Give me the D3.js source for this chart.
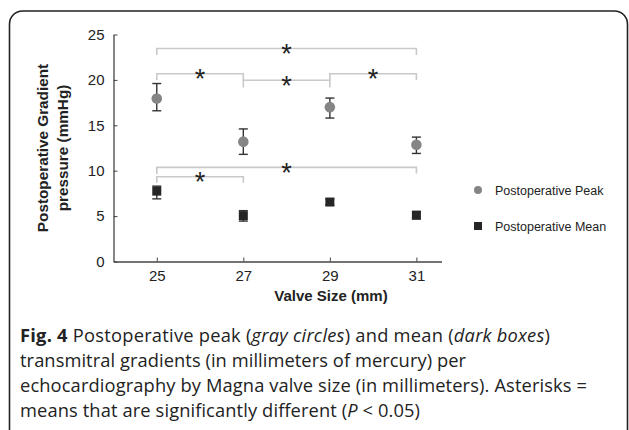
<!DOCTYPE html>
<html>
<head>
<meta charset="utf-8">
<script src="https://cdn.jsdelivr.net/npm/d3@7"></script>
<style>
  body { margin: 0; background: #fff; }
  svg { display: block; }
</style>
</head>
<body>
<svg id="chart" width="629" height="430"></svg>
<script>
// valve sizes and gradients
var sizes = [25, 27, 29, 31];
var peakMean = [17.95, 13.2, 17.0, 12.85];
var peakHigh = [19.6, 14.6, 18.0, 13.7];
var peakLow = [16.6, 11.8, 15.8, 11.9];
var meanMean = [7.75, 5.05, 6.55, 5.1];
var meanHigh = [8.3, 5.6, 6.9, 5.5];
var meanLow = [6.9, 4.45, 6.2, 4.7];
var yTicks = [0, 5, 10, 15, 20, 25];

// significance brackets: [from, to, line level, left leg end, right leg end]
var brackets = [
  [25, 31, 23.45, 22.75, 22.75],
  [25, 27, 20.68, 20.0, 19.96],
  [27, 29, 19.96, 19.15, 19.15],
  [29, 31, 20.68, 19.96, 20.0],
  [25, 31, 10.37, 9.65, 9.7],
  [25, 27, 9.34, 8.68, 8.68]
];

// caption lines, pieces are [text, style]
var caption = [
  [["Fig. 4", "b"], [" Postoperative peak (", ""], ["gray circles", "i"], [") and mean (", ""], ["dark boxes", "i"], [")", ""]],
  [["transmitral gradients (in millimeters of mercury) per", ""]],
  [["echocardiography by Magna valve size (in millimeters). Asterisks =", ""]],
  [["means that are significantly different (", ""], ["P", "i"], [" < 0.05)", ""]]
];
var captionWidths = [530, 446, 567, 400];

var svg = d3.select("#chart");

// frame round figure
svg.append("rect")
  .attr("x", 9.5).attr("y", 11)
  .attr("width", 618).attr("height", 440)
  .attr("rx", 13)
  .attr("fill", "none")
  .attr("stroke", "#222")
  .attr("stroke-width", 1.6);

var x = d3.scaleLinear().domain([24, 31.58]).range([113.5, 441.5]);
var y = d3.scaleLinear().domain([0, 25]).range([261.5, 34.5]);

svg.append("g")
  .attr("transform", "translate(0,261.5)")
  .call(d3.axisBottom(x).tickValues(sizes).tickSizeInner(-4).tickSizeOuter(0).tickPadding(9))
  .call(function(g){
    g.select(".domain").attr("stroke", "#444").attr("stroke-width", 1.3);
    g.selectAll(".tick line").attr("stroke", "#444");
    g.selectAll("text").attr("font-family", "Liberation Sans, Arial, sans-serif")
      .attr("font-size", 15).attr("fill", "#222");
  });

svg.append("g")
  .attr("transform", "translate(113.5,0)")
  .call(d3.axisLeft(y).tickValues(yTicks).tickSizeInner(-4).tickSizeOuter(0).tickPadding(9))
  .call(function(g){
    g.select(".domain").attr("stroke", "#444").attr("stroke-width", 1.3);
    g.selectAll(".tick line").attr("stroke", "#444");
    g.selectAll("text").attr("font-family", "Liberation Sans, Arial, sans-serif")
      .attr("font-size", 15).attr("fill", "#222");
  });

// axis titles
svg.append("text")
  .attr("x", 331).attr("y", 301)
  .attr("text-anchor", "middle")
  .attr("font-family", "Liberation Sans, Arial, sans-serif")
  .attr("font-weight", "bold").attr("font-size", 15)
  .attr("fill", "#222")
  .text("Valve Size (mm)");

var ytitle = svg.append("text")
  .attr("transform", "translate(43,148) rotate(-90)")
  .attr("text-anchor", "middle")
  .attr("font-family", "Liberation Sans, Arial, sans-serif")
  .attr("font-weight", "bold").attr("font-size", 15.3)
  .attr("fill", "#222");
ytitle.append("tspan").attr("x", 0).attr("dy", "0.35em").text("Postoperative Gradient");
ytitle.append("tspan").attr("x", 0).attr("dy", 20).text("pressure (mmHg)");

// brackets
var br = svg.append("g");
brackets.forEach(function(b){
  var p = d3.path();
  p.moveTo(x(b[0]), y(b[3]));
  p.lineTo(x(b[0]), y(b[2]));
  p.lineTo(x(b[1]), y(b[2]));
  p.lineTo(x(b[1]), y(b[4]));
  br.append("path")
    .attr("d", p.toString())
    .attr("fill", "none")
    .attr("stroke", "#c9c9c9")
    .attr("stroke-width", 1.6);
  br.append("text")
    .attr("x", x((b[0] + b[1]) / 2))
    .attr("y", y(b[2]) + 14.5)
    .attr("text-anchor", "middle")
    .attr("font-family", "Liberation Sans, Arial, sans-serif")
    .attr("font-size", 27)
    .attr("fill", "#222")
    .text("*");
});

// error bars
function errorBars(high, low){
  var g = svg.append("g").attr("stroke", "#333").attr("stroke-width", 1.4);
  sizes.forEach(function(s, i){
    g.append("line").attr("x1", x(s)).attr("x2", x(s)).attr("y1", y(high[i])).attr("y2", y(low[i]));
    g.append("line").attr("x1", x(s) - 4.5).attr("x2", x(s) + 4.5).attr("y1", y(high[i])).attr("y2", y(high[i]));
    g.append("line").attr("x1", x(s) - 4.5).attr("x2", x(s) + 4.5).attr("y1", y(low[i])).attr("y2", y(low[i]));
  });
}
errorBars(peakHigh, peakLow);
errorBars(meanHigh, meanLow);

svg.selectAll(".peak")
  .data(peakMean)
  .enter()
  .append("circle")
  .attr("class", "peak")
  .attr("cx", function(d, i){ return x(sizes[i]); })
  .attr("cy", function(d){ return y(d); })
  .attr("r", 5.3)
  .attr("fill", "#858585");

svg.selectAll(".mean")
  .data(meanMean)
  .enter()
  .append("rect")
  .attr("class", "mean")
  .attr("x", function(d, i){ return x(sizes[i]) - 4.5; })
  .attr("y", function(d){ return y(d) - 4.5; })
  .attr("width", 9).attr("height", 9)
  .attr("fill", "#262626");

// legend
var legend = svg.append("g")
  .attr("font-family", "Liberation Sans, Arial, sans-serif")
  .attr("font-size", 12.5)
  .attr("fill", "#222");
legend.append("circle").attr("cx", 478).attr("cy", 190).attr("r", 4).attr("fill", "#858585");
legend.append("text").attr("x", 495).attr("y", 194.5).text("Postoperative Peak");
legend.append("rect").attr("x", 474).attr("y", 222).attr("width", 8).attr("height", 8).attr("fill", "#262626");
legend.append("text").attr("x", 495).attr("y", 230.5).text("Postoperative Mean");

// caption
var cap = svg.append("g")
  .attr("font-family", "Open Sans, sans-serif")
  .attr("font-size", 18.3)
  .attr("fill", "#222");
caption.forEach(function(line, i){
  var t = cap.append("text")
    .attr("x", 20)
    .attr("y", 341.5 + i * 25.3)
    .attr("textLength", captionWidths[i])
    .attr("lengthAdjust", "spacing");
  line.forEach(function(piece){
    t.append("tspan")
      .attr("font-weight", piece[1] == "b" ? "bold" : null)
      .attr("font-style", piece[1] == "i" ? "italic" : null)
      .text(piece[0]);
  });
});
</script>
</body>
</html>
